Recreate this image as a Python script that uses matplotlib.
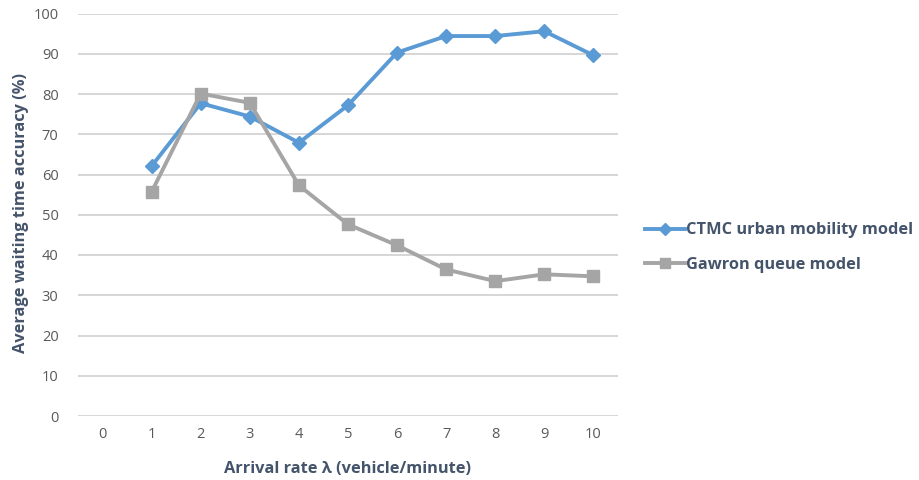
import matplotlib
matplotlib.use("Agg")
import matplotlib.pyplot as plt

x_vals = [1, 2, 3, 4, 5, 6, 7, 8, 9, 10]
ctmc = [62.1, 77.7, 74.4, 67.9, 77.2, 90.3, 94.4, 94.4, 95.6, 89.6]
gawron = [55.7, 80.1, 77.8, 57.3, 47.6, 42.4, 36.4, 33.5, 35.2, 34.7]
x_ticks = [0, 1, 2, 3, 4, 5, 6, 7, 8, 9, 10]
y_ticks = [0, 10, 20, 30, 40, 50, 60, 70, 80, 90, 100]

plt.rcParams['font.family'] = ['Open Sans', 'DejaVu Sans']

W, H = 919, 480
fig = plt.figure(figsize=(W / 100, H / 100), dpi=100)
ax = fig.add_axes([78 / W, (H - 416) / H, (618 - 78) / W, (416 - 13.5) / H])

blue = '#5B9BD5'
gray = '#A5A5A5'
ax.plot(x_vals, ctmc, color=blue, lw=2.8, marker='D', ms=7.5, mec=blue, mfc=blue,
        label='CTMC urban mobility model', zorder=3)
ax.plot(x_vals, gawron, color=gray, lw=2.8, marker='s', ms=8.5, mec=gray, mfc=gray,
        label='Gawron queue model', zorder=3)

ax.set_xlim(-0.5, 10.5)
ax.set_ylim(0, 100)
ax.set_xticks(x_ticks)
ax.set_yticks(y_ticks)
ax.grid(axis='y', color='#D0D0D0', lw=1.2)
ax.set_axisbelow(True)
for s in ax.spines.values():
    s.set_visible(False)
ax.tick_params(length=0, labelsize=10.5, colors='#595959', pad=8)
ax.tick_params(axis='y', pad=14)

lab_color = '#44546A'
fig.text(348 / W, 1 - 469 / H, 'Arrival rate λ (vehicle/minute)', fontsize=11.8,
         fontweight='bold', color=lab_color, ha='center', va='center')
fig.text(21 / W, 1 - 213 / H, 'Average waiting time accuracy (%)', fontsize=11.8,
         fontweight='bold', color=lab_color, ha='center', va='center', rotation=90)

leg = fig.legend(loc='center left', bbox_to_anchor=(645 / W, 1 - 247.5 / H), frameon=False,
                 fontsize=11.8, handlelength=2.45, labelspacing=1.1, handletextpad=0.05,
                 borderpad=0, borderaxespad=0, markerscale=0.85)
for t in leg.get_texts():
    t.set_color(lab_color)
    t.set_fontweight('bold')

fig.savefig('out.png', dpi=100)
